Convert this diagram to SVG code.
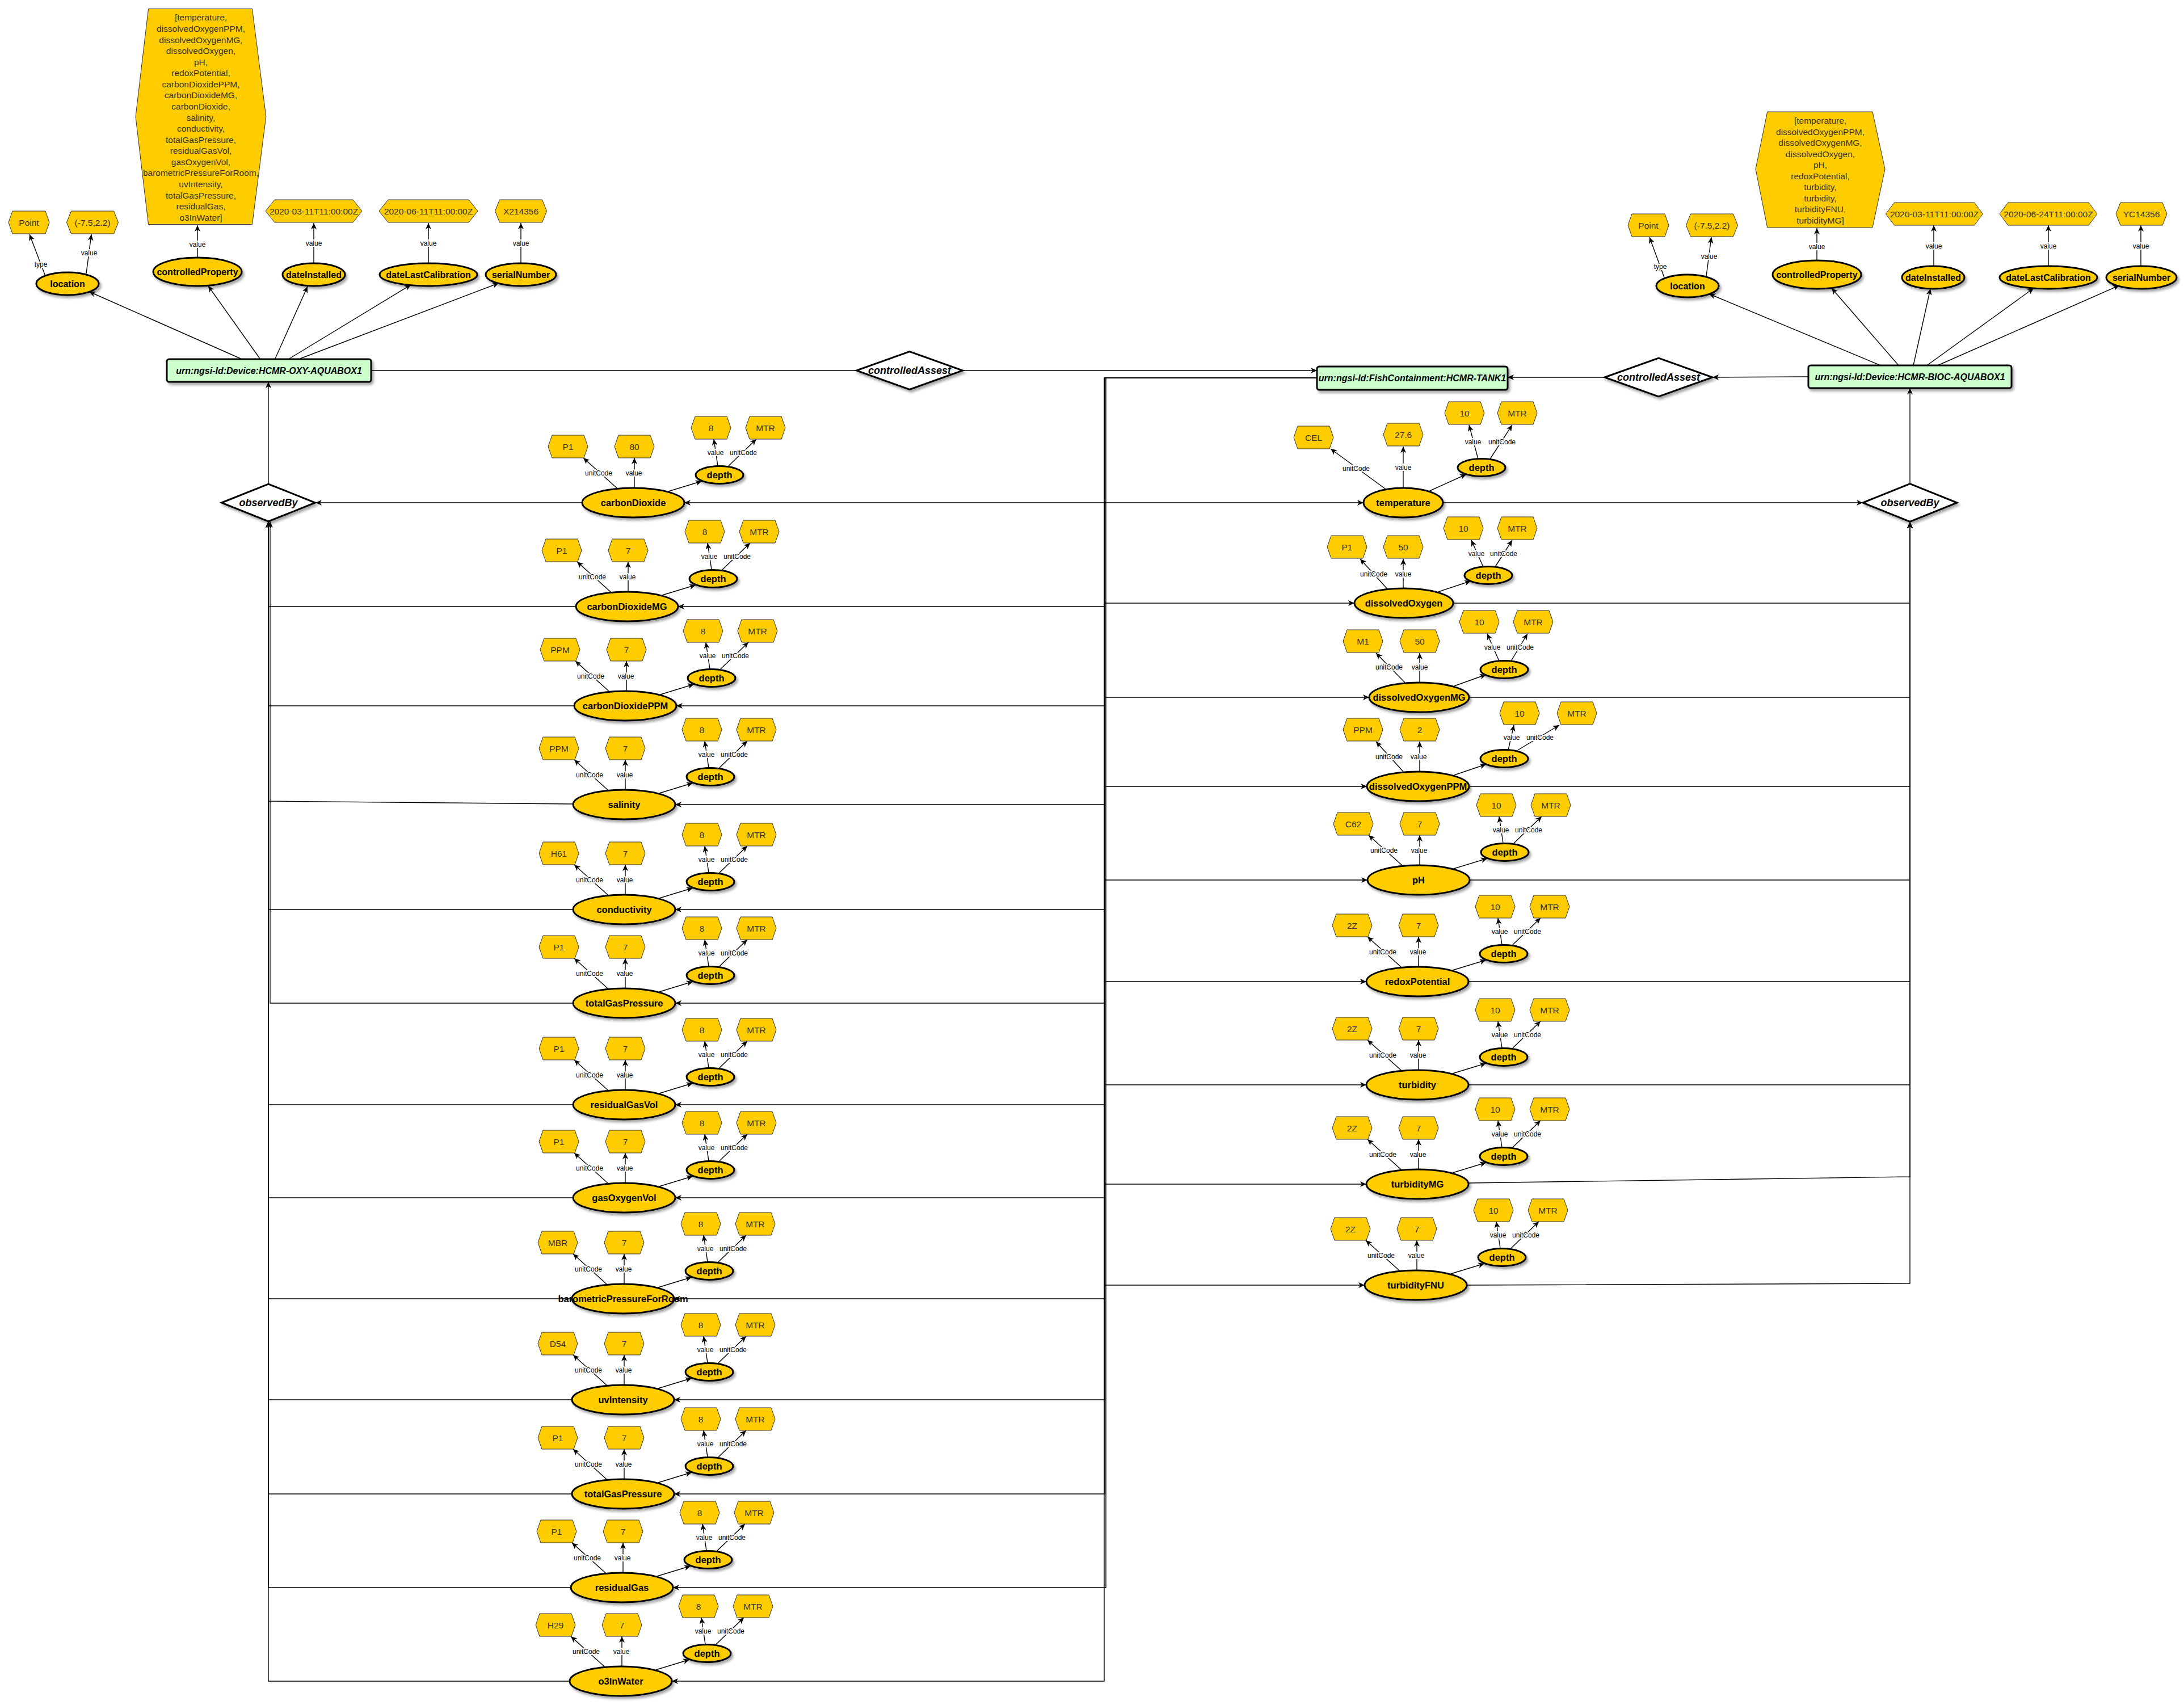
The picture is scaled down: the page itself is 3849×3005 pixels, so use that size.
<svg xmlns="http://www.w3.org/2000/svg" width="3849" height="3005" viewBox="0 0 3849 3005">
<style>
.ell{fill:#FFCC00;stroke:#000;stroke-width:3;filter:url(#sh)}
.hex{fill:#FFCC00;stroke:#333;stroke-width:1}
.box{fill:#CCFFCC;stroke:#000;stroke-width:3;filter:url(#sh)}
.dia{fill:#fff;stroke:#000;stroke-width:3;filter:url(#sh)}
.t{font-family:"Liberation Sans",Arial,sans-serif;text-anchor:middle;dominant-baseline:central}
.tb{font-weight:bold;font-size:16.5px;fill:#000}
.tt{font-weight:bold;font-size:16px;fill:#000}
.th{font-size:15.5px;fill:#333}
.tl{font-size:12px;fill:#000;stroke:#fff;stroke-width:4px;paint-order:stroke;stroke-linejoin:round}
.ti{font-weight:bold;font-style:italic;font-size:16px;fill:#000}
.td{font-weight:bold;font-style:italic;font-size:18px;fill:#000}
.c path{fill:none;stroke:#000;stroke-width:1.4;marker-end:url(#ar)}
.c path.n{marker-end:none}
</style>
<defs>
<filter id="sh" x="-20%" y="-40%" width="150%" height="190%"><feDropShadow dx="3" dy="4" stdDeviation="2" flood-color="#000" flood-opacity="0.35"/></filter>
<marker id="ar" markerUnits="userSpaceOnUse" markerWidth="12" markerHeight="10" refX="11" refY="5" orient="auto"><path d="M0,0 L11,5 L0,10 L3,5 z" fill="#000"/></marker>
<polygon id="hx" class="hex" points="-35,0 -28,-20 28,-20 35,0 28,20 -28,20"/>
</defs>
<rect width="3849" height="3005" fill="#fff"/>

<g id="connectors" class="c">
<path class="n" d="M654,653 H1510"/>
<path d="M1697,653 H2321"/>
<path d="M3187,664 L3018,665"/>
<path d="M2828,665 H2657"/>
<path d="M473,853 V673"/>
<path d="M3366,852 V684"/>

<path d="M424,632 L157,514"/>
<path d="M458,632 L367,504"/>
<path d="M485,632 L542,505"/>
<path d="M510,632 L724,502"/>
<path d="M529,632 L879,499"/>
<path d="M79,484 L52,413"/>
<path d="M152,482 L161,413"/>
<path d="M348,454 L348,397"/>
<path d="M553,464 L553,393"/>
<path d="M755,464 L755,393"/>
<path d="M918,464 L918,393"/>
<text class="t tl" x="72" y="466">type</text>
<text class="t tl" x="157" y="446">value</text>
<text class="t tl" x="348" y="431">value</text>
<text class="t tl" x="553" y="429">value</text>
<text class="t tl" x="755" y="429">value</text>
<text class="t tl" x="918" y="429">value</text>

<path d="M3314,644 L3012,518"/>
<path d="M3346,644 L3228,508"/>
<path d="M3372,644 L3402,509"/>
<path d="M3396,644 L3584,508"/>
<path d="M3415,644 L3735,503"/>
<path d="M2933,489 L2907,418"/>
<path d="M3007,487 L3016,418"/>
<path d="M3202,459 L3202,402"/>
<path d="M3408,469 L3408,397"/>
<path d="M3610,469 L3610,397"/>
<path d="M3773,469 L3773,397"/>
<text class="t tl" x="2926" y="470">type</text>
<text class="t tl" x="3012" y="452">value</text>
<text class="t tl" x="3202" y="435">value</text>
<text class="t tl" x="3408" y="434">value</text>
<text class="t tl" x="3610" y="434">value</text>
<text class="t tl" x="3773" y="434">value</text>

<path d="M2321,666 H1947 V886 H1206"/>
<path d="M2321,666 H1947 V1069 H1195"/>
<path d="M2321,666 H1947 V1244 H1192"/>
<path d="M2321,666 H1947 V1418 H1190"/>
<path d="M2321,666 H1947 V1603 H1190"/>
<path d="M2321,666 H1947 V1768 H1190"/>
<path d="M2321,666 H1947 V1947 H1190"/>
<path d="M2321,666 H1947 V2111 H1190"/>
<path d="M2321,666 H1947 V2289 H1188"/>
<path d="M2321,666 H1947 V2467 H1188"/>
<path d="M2321,666 H1947 V2633 H1188"/>
<path d="M2321,666 H1949 V2798 H1186"/>
<path d="M2321,666 H1946 V2963 H1184"/>
<path d="M2321,666 H1947 V886 H2403"/>
<path d="M2321,666 H1947 V1063 H2387"/>
<path d="M2321,666 H1947 V1229 H2413"/>
<path d="M2321,666 H1947 V1386 H2409"/>
<path d="M2321,666 H1947 V1551 H2410"/>
<path d="M2321,666 H1947 V1730 H2408"/>
<path d="M2321,666 H1947 V1912 H2408"/>
<path d="M2321,666 H1947 V2087 H2408"/>
<path d="M2321,666 H1947 V2265 H2405"/>

<path d="M1026,886 H556"/>
<path d="M1015,1069 H473 V919"/>
<path d="M1012,1244 H473 V919"/>
<path d="M1010,1417 L473,1412 V919"/>
<path d="M1010,1603 H473 V919"/>
<path d="M1010,1768 H476 V919"/>
<path d="M1010,1947 H473 V919"/>
<path d="M1010,2111 H473 V919"/>
<path d="M1008,2289 H473 V919"/>
<path d="M1008,2467 H473 V919"/>
<path d="M1008,2633 H473 V919"/>
<path d="M1006,2798 H473 V919"/>
<path d="M1004,2963 H473 V919"/>
<path d="M2543,886 H3283"/>
<path d="M2561,1063 H3366 V920"/>
<path d="M2589,1229 H3366 V920"/>
<path d="M2589,1386 H3366 V920"/>
<path d="M2590,1551 H3366 V920"/>
<path d="M2588,1730 H3366 V920"/>
<path d="M2588,1912 H3366 V920"/>
<path d="M2588,2085 L3366,2074 V920"/>
<path d="M2585,2265 L3366,2262 V920"/>

<g transform="translate(1116,886)"><path d="M-28,-25 L-88,-79"/><path d="M2,-26 L2,-79"/><path d="M62,-20 L121,-38"/><path d="M149,-65 L142,-112"/><path d="M168,-65 L217,-112"/><text class="t tl" x="-61" y="-52">unitCode</text><text class="t tl" x="1" y="-52">value</text><text class="t tl" x="145" y="-88">value</text><text class="t tl" x="194" y="-88">unitCode</text></g>
<g transform="translate(1105,1069)"><path d="M-28,-25 L-88,-79"/><path d="M2,-26 L2,-79"/><path d="M62,-20 L121,-38"/><path d="M149,-65 L142,-112"/><path d="M168,-65 L217,-112"/><text class="t tl" x="-61" y="-52">unitCode</text><text class="t tl" x="1" y="-52">value</text><text class="t tl" x="145" y="-88">value</text><text class="t tl" x="194" y="-88">unitCode</text></g>
<g transform="translate(1102,1244)"><path d="M-28,-25 L-88,-79"/><path d="M2,-26 L2,-79"/><path d="M62,-20 L121,-38"/><path d="M149,-65 L142,-112"/><path d="M168,-65 L217,-112"/><text class="t tl" x="-61" y="-52">unitCode</text><text class="t tl" x="1" y="-52">value</text><text class="t tl" x="145" y="-88">value</text><text class="t tl" x="194" y="-88">unitCode</text></g>
<g transform="translate(1100,1418)"><path d="M-28,-25 L-88,-79"/><path d="M2,-26 L2,-79"/><path d="M62,-20 L121,-38"/><path d="M149,-65 L142,-112"/><path d="M168,-65 L217,-112"/><text class="t tl" x="-61" y="-52">unitCode</text><text class="t tl" x="1" y="-52">value</text><text class="t tl" x="145" y="-88">value</text><text class="t tl" x="194" y="-88">unitCode</text></g>
<g transform="translate(1100,1603)"><path d="M-28,-25 L-88,-79"/><path d="M2,-26 L2,-79"/><path d="M62,-20 L121,-38"/><path d="M149,-65 L142,-112"/><path d="M168,-65 L217,-112"/><text class="t tl" x="-61" y="-52">unitCode</text><text class="t tl" x="1" y="-52">value</text><text class="t tl" x="145" y="-88">value</text><text class="t tl" x="194" y="-88">unitCode</text></g>
<g transform="translate(1100,1768)"><path d="M-28,-25 L-88,-79"/><path d="M2,-26 L2,-79"/><path d="M62,-20 L121,-38"/><path d="M149,-65 L142,-112"/><path d="M168,-65 L217,-112"/><text class="t tl" x="-61" y="-52">unitCode</text><text class="t tl" x="1" y="-52">value</text><text class="t tl" x="145" y="-88">value</text><text class="t tl" x="194" y="-88">unitCode</text></g>
<g transform="translate(1100,1947)"><path d="M-28,-25 L-88,-79"/><path d="M2,-26 L2,-79"/><path d="M62,-20 L121,-38"/><path d="M149,-65 L142,-112"/><path d="M168,-65 L217,-112"/><text class="t tl" x="-61" y="-52">unitCode</text><text class="t tl" x="1" y="-52">value</text><text class="t tl" x="145" y="-88">value</text><text class="t tl" x="194" y="-88">unitCode</text></g>
<g transform="translate(1100,2111)"><path d="M-28,-25 L-88,-79"/><path d="M2,-26 L2,-79"/><path d="M62,-20 L121,-38"/><path d="M149,-65 L142,-112"/><path d="M168,-65 L217,-112"/><text class="t tl" x="-61" y="-52">unitCode</text><text class="t tl" x="1" y="-52">value</text><text class="t tl" x="145" y="-88">value</text><text class="t tl" x="194" y="-88">unitCode</text></g>
<g transform="translate(1098,2289)"><path d="M-28,-25 L-88,-79"/><path d="M2,-26 L2,-79"/><path d="M62,-20 L121,-38"/><path d="M149,-65 L142,-112"/><path d="M168,-65 L217,-112"/><text class="t tl" x="-61" y="-52">unitCode</text><text class="t tl" x="1" y="-52">value</text><text class="t tl" x="145" y="-88">value</text><text class="t tl" x="194" y="-88">unitCode</text></g>
<g transform="translate(1098,2467)"><path d="M-28,-25 L-88,-79"/><path d="M2,-26 L2,-79"/><path d="M62,-20 L121,-38"/><path d="M149,-65 L142,-112"/><path d="M168,-65 L217,-112"/><text class="t tl" x="-61" y="-52">unitCode</text><text class="t tl" x="1" y="-52">value</text><text class="t tl" x="145" y="-88">value</text><text class="t tl" x="194" y="-88">unitCode</text></g>
<g transform="translate(1098,2633)"><path d="M-28,-25 L-88,-79"/><path d="M2,-26 L2,-79"/><path d="M62,-20 L121,-38"/><path d="M149,-65 L142,-112"/><path d="M168,-65 L217,-112"/><text class="t tl" x="-61" y="-52">unitCode</text><text class="t tl" x="1" y="-52">value</text><text class="t tl" x="145" y="-88">value</text><text class="t tl" x="194" y="-88">unitCode</text></g>
<g transform="translate(1096,2798)"><path d="M-28,-25 L-88,-79"/><path d="M2,-26 L2,-79"/><path d="M62,-20 L121,-38"/><path d="M149,-65 L142,-112"/><path d="M168,-65 L217,-112"/><text class="t tl" x="-61" y="-52">unitCode</text><text class="t tl" x="1" y="-52">value</text><text class="t tl" x="145" y="-88">value</text><text class="t tl" x="194" y="-88">unitCode</text></g>
<g transform="translate(1094,2963)"><path d="M-28,-25 L-88,-79"/><path d="M2,-26 L2,-79"/><path d="M62,-20 L121,-38"/><path d="M149,-65 L142,-112"/><path d="M168,-65 L217,-112"/><text class="t tl" x="-61" y="-52">unitCode</text><text class="t tl" x="1" y="-52">value</text><text class="t tl" x="145" y="-88">value</text><text class="t tl" x="194" y="-88">unitCode</text></g>

<g><path d="M2442,862 L2345,791"/><path d="M2473,860 L2473,787"/><path d="M2518,866 L2584,836"/><path d="M2605,809 L2589,749"/><path d="M2626,809 L2665,749"/><text class="t tl" x="2390" y="826">unitCode</text><text class="t tl" x="2473" y="824">value</text><text class="t tl" x="2596" y="779">value</text><text class="t tl" x="2647" y="779">unitCode</text></g>
<g><path d="M2445,1038 L2397,985"/><path d="M2473,1037 L2473,985"/><path d="M2535,1043 L2592,1024"/><path d="M2614,999 L2593,952"/><path d="M2635,999 L2665,952"/><text class="t tl" x="2421" y="1012">unitCode</text><text class="t tl" x="2473" y="1012">value</text><text class="t tl" x="2602" y="976">value</text><text class="t tl" x="2650" y="976">unitCode</text></g>
<g><path d="M2476,1203 L2425,1151"/><path d="M2502,1203 L2502,1151"/><path d="M2563,1209 L2619,1189"/><path d="M2642,1165 L2621,1117"/><path d="M2663,1165 L2692,1117"/><text class="t tl" x="2448" y="1176">unitCode</text><text class="t tl" x="2502" y="1176">value</text><text class="t tl" x="2630" y="1141">value</text><text class="t tl" x="2679" y="1141">unitCode</text></g>
<g><path d="M2473,1360 L2425,1307"/><path d="M2502,1360 L2502,1307"/><path d="M2563,1366 L2619,1347"/><path d="M2658,1322 L2668,1278"/><path d="M2675,1322 L2748,1278"/><text class="t tl" x="2448" y="1334">unitCode</text><text class="t tl" x="2500" y="1334">value</text><text class="t tl" x="2664" y="1300">value</text><text class="t tl" x="2714" y="1300">unitCode</text></g>
<g transform="translate(2500,1551)"><path d="M-28,-25 L-88,-79"/><path d="M2,-26 L2,-79"/><path d="M62,-20 L121,-38"/><path d="M149,-65 L142,-112"/><path d="M168,-65 L217,-112"/><text class="t tl" x="-61" y="-52">unitCode</text><text class="t tl" x="1" y="-52">value</text><text class="t tl" x="145" y="-88">value</text><text class="t tl" x="194" y="-88">unitCode</text></g>
<g transform="translate(2498,1730)"><path d="M-28,-25 L-88,-79"/><path d="M2,-26 L2,-79"/><path d="M62,-20 L121,-38"/><path d="M149,-65 L142,-112"/><path d="M168,-65 L217,-112"/><text class="t tl" x="-61" y="-52">unitCode</text><text class="t tl" x="1" y="-52">value</text><text class="t tl" x="145" y="-88">value</text><text class="t tl" x="194" y="-88">unitCode</text></g>
<g transform="translate(2498,1912)"><path d="M-28,-25 L-88,-79"/><path d="M2,-26 L2,-79"/><path d="M62,-20 L121,-38"/><path d="M149,-65 L142,-112"/><path d="M168,-65 L217,-112"/><text class="t tl" x="-61" y="-52">unitCode</text><text class="t tl" x="1" y="-52">value</text><text class="t tl" x="145" y="-88">value</text><text class="t tl" x="194" y="-88">unitCode</text></g>
<g transform="translate(2498,2087)"><path d="M-28,-25 L-88,-79"/><path d="M2,-26 L2,-79"/><path d="M62,-20 L121,-38"/><path d="M149,-65 L142,-112"/><path d="M168,-65 L217,-112"/><text class="t tl" x="-61" y="-52">unitCode</text><text class="t tl" x="1" y="-52">value</text><text class="t tl" x="145" y="-88">value</text><text class="t tl" x="194" y="-88">unitCode</text></g>
<g transform="translate(2495,2265)"><path d="M-28,-25 L-88,-79"/><path d="M2,-26 L2,-79"/><path d="M62,-20 L121,-38"/><path d="M149,-65 L142,-112"/><path d="M168,-65 L217,-112"/><text class="t tl" x="-61" y="-52">unitCode</text><text class="t tl" x="1" y="-52">value</text><text class="t tl" x="145" y="-88">value</text><text class="t tl" x="194" y="-88">unitCode</text></g>
</g>

<g id="nodes">
<g id="dev-oxy"><rect class="box" x="294" y="633" width="360" height="40" rx="4"/><text class="t ti" x="474" y="653">urn:ngsi-ld:Device:HCMR-OXY-AQUABOX1</text></g>
<g id="dev-bioc"><rect class="box" x="3187" y="644" width="358" height="40" rx="4"/><text class="t ti" x="3366" y="664">urn:ngsi-ld:Device:HCMR-BIOC-AQUABOX1</text></g>
<g id="tank"><rect class="box" x="2321" y="646" width="336" height="41" rx="4"/><text class="t ti" x="2489" y="666.5">urn:ngsi-ld:FishContainment:HCMR-TANK1</text></g>
<g id="ca-left" transform="translate(1603,653)"><polygon class="dia" points="-93.5,0 0,-33.5 93.5,0 0,33.5"/><text class="t td">controlledAssest</text></g>
<g id="ca-right" transform="translate(2923,665)"><polygon class="dia" points="-95,0 0,-34 95,0 0,34"/><text class="t td">controlledAssest</text></g>
<g id="ob-left" transform="translate(473,886)"><polygon class="dia" points="-82.5,0 0,-33 82.5,0 0,33"/><text class="t td">observedBy</text></g>
<g id="ob-right" transform="translate(3366,886)"><polygon class="dia" points="-83,0 0,-33.5 83,0 0,33.5"/><text class="t td">observedBy</text></g>

<g id="oxy-location" transform="translate(119,500)"><ellipse class="ell" rx="55" ry="20"/><text class="t tt">location</text></g>
<g id="oxy-controlledProperty" transform="translate(348,479)"><ellipse class="ell" rx="78" ry="25"/><text class="t tt">controlledProperty</text></g>
<g id="oxy-dateInstalled" transform="translate(553,484)"><ellipse class="ell" rx="55" ry="20"/><text class="t tt">dateInstalled</text></g>
<g id="oxy-dateLastCalibration" transform="translate(755,484)"><ellipse class="ell" rx="86" ry="20"/><text class="t tt">dateLastCalibration</text></g>
<g id="oxy-serialNumber" transform="translate(918,484)"><ellipse class="ell" rx="62" ry="20"/><text class="t tt">serialNumber</text></g>
<g id="oxy-loc-type" transform="translate(51,392)"><polygon class="hex" points="-36,0 -29,-20 29,-20 36,0 29,20 -29,20"/><text class="t th">Point</text></g>
<g id="oxy-loc-value" transform="translate(163,392)"><polygon class="hex" points="-45.5,0 -37.5,-20 37.5,-20 45.5,0 37.5,20 -37.5,20"/><text class="t th">(-7.5,2.2)</text></g>
<g id="oxy-cp-value"><polygon class="hex" points="261.5,15.6 444.5,15.6 468.8,205.6 444.5,395.5 261.5,395.5 239,205.6"/><text class="t th"><tspan x="354" y="30.4">[temperature,</tspan><tspan x="354" y="50">dissolvedOxygenPPM,</tspan><tspan x="354" y="69.5">dissolvedOxygenMG,</tspan><tspan x="354" y="89.1">dissolvedOxygen,</tspan><tspan x="354" y="108.7">pH,</tspan><tspan x="354" y="128.3">redoxPotential,</tspan><tspan x="354" y="147.8">carbonDioxidePPM,</tspan><tspan x="354" y="167.4">carbonDioxideMG,</tspan><tspan x="354" y="187">carbonDioxide,</tspan><tspan x="354" y="206.5">salinity,</tspan><tspan x="354" y="226.1">conductivity,</tspan><tspan x="354" y="245.7">totalGasPressure,</tspan><tspan x="354" y="265.2">residualGasVol,</tspan><tspan x="354" y="284.8">gasOxygenVol,</tspan><tspan x="354" y="304.4">barometricPressureForRoom,</tspan><tspan x="354" y="323.9">uvIntensity,</tspan><tspan x="354" y="343.5">totalGasPressure,</tspan><tspan x="354" y="363.1">residualGas,</tspan><tspan x="354" y="382.7">o3InWater]</tspan></text></g>
<g id="oxy-di-value" transform="translate(553,372)"><polygon class="hex" points="-85,0 -69,-20 69,-20 85,0 69,20 -69,20"/><text class="t th">2020-03-11T11:00:00Z</text></g>
<g id="oxy-dlc-value" transform="translate(755,372)"><polygon class="hex" points="-87,0 -71,-20 71,-20 87,0 71,20 -71,20"/><text class="t th">2020-06-11T11:00:00Z</text></g>
<g id="oxy-sn-value" transform="translate(918,372)"><polygon class="hex" points="-45.5,0 -37.5,-20 37.5,-20 45.5,0 37.5,20 -37.5,20"/><text class="t th">X214356</text></g>

<g id="bioc-location" transform="translate(2974,504)"><ellipse class="ell" rx="55" ry="20"/><text class="t tt">location</text></g>
<g id="bioc-controlledProperty" transform="translate(3202,484)"><ellipse class="ell" rx="78" ry="25"/><text class="t tt">controlledProperty</text></g>
<g id="bioc-dateInstalled" transform="translate(3407,489)"><ellipse class="ell" rx="55" ry="20"/><text class="t tt">dateInstalled</text></g>
<g id="bioc-dateLastCalibration" transform="translate(3610,489)"><ellipse class="ell" rx="86" ry="20"/><text class="t tt">dateLastCalibration</text></g>
<g id="bioc-serialNumber" transform="translate(3774,489)"><ellipse class="ell" rx="62" ry="20"/><text class="t tt">serialNumber</text></g>
<g id="bioc-loc-type" transform="translate(2905,397)"><polygon class="hex" points="-36,0 -29,-20 29,-20 36,0 29,20 -29,20"/><text class="t th">Point</text></g>
<g id="bioc-loc-value" transform="translate(3017,397)"><polygon class="hex" points="-45.5,0 -37.5,-20 37.5,-20 45.5,0 37.5,20 -37.5,20"/><text class="t th">(-7.5,2.2)</text></g>
<g id="bioc-cp-value"><polygon class="hex" points="3114.7,197 3300,197 3322,298 3300,401 3114.7,401 3094,298"/><text class="t th"><tspan x="3208" y="212">[temperature,</tspan><tspan x="3208" y="231.5">dissolvedOxygenPPM,</tspan><tspan x="3208" y="251">dissolvedOxygenMG,</tspan><tspan x="3208" y="270.5">dissolvedOxygen,</tspan><tspan x="3208" y="290">pH,</tspan><tspan x="3208" y="309.5">redoxPotential,</tspan><tspan x="3208" y="329">turbidity,</tspan><tspan x="3208" y="348.5">turbidity,</tspan><tspan x="3208" y="368">turbidityFNU,</tspan><tspan x="3208" y="387.5">turbidityMG]</tspan></text></g>
<g id="bioc-di-value" transform="translate(3409,377)"><polygon class="hex" points="-85.5,0 -70.5,-20 70.5,-20 85.5,0 70.5,20 -70.5,20"/><text class="t th">2020-03-11T11:00:00Z</text></g>
<g id="bioc-dlc-value" transform="translate(3610,377)"><polygon class="hex" points="-86,0 -71,-20 71,-20 86,0 71,20 -71,20"/><text class="t th">2020-06-24T11:00:00Z</text></g>
<g id="bioc-sn-value" transform="translate(3774,377)"><polygon class="hex" points="-45,0 -37,-20 37,-20 45,0 37,20 -37,20"/><text class="t th">YC14356</text></g>

<g id="L1" transform="translate(1116,886)"><ellipse class="ell" rx="90" ry="26"/><text class="t tb">carbonDioxide</text></g>
<g id="L1u" transform="translate(1001,787)"><use href="#hx"/><text class="t th">P1</text></g>
<g id="L1v" transform="translate(1118,787)"><use href="#hx"/><text class="t th">80</text></g>
<g id="L1d" transform="translate(1268,837)"><ellipse class="ell" rx="42" ry="15.5"/><text class="t tb">depth</text></g>
<g id="L1dv" transform="translate(1253,754)"><use href="#hx"/><text class="t th">8</text></g>
<g id="L1du" transform="translate(1349,754)"><use href="#hx"/><text class="t th">MTR</text></g>

<g id="L2" transform="translate(1105,1069)"><ellipse class="ell" rx="90" ry="26"/><text class="t tb">carbonDioxideMG</text></g>
<g id="L2u" transform="translate(990,970)"><use href="#hx"/><text class="t th">P1</text></g>
<g id="L2v" transform="translate(1107,970)"><use href="#hx"/><text class="t th">7</text></g>
<g id="L2d" transform="translate(1257,1020)"><ellipse class="ell" rx="42" ry="15.5"/><text class="t tb">depth</text></g>
<g id="L2dv" transform="translate(1242,937)"><use href="#hx"/><text class="t th">8</text></g>
<g id="L2du" transform="translate(1338,937)"><use href="#hx"/><text class="t th">MTR</text></g>

<g id="L3" transform="translate(1102,1244)"><ellipse class="ell" rx="90" ry="26"/><text class="t tb">carbonDioxidePPM</text></g>
<g id="L3u" transform="translate(987,1145)"><use href="#hx"/><text class="t th">PPM</text></g>
<g id="L3v" transform="translate(1104,1145)"><use href="#hx"/><text class="t th">7</text></g>
<g id="L3d" transform="translate(1254,1195)"><ellipse class="ell" rx="42" ry="15.5"/><text class="t tb">depth</text></g>
<g id="L3dv" transform="translate(1239,1112)"><use href="#hx"/><text class="t th">8</text></g>
<g id="L3du" transform="translate(1335,1112)"><use href="#hx"/><text class="t th">MTR</text></g>

<g id="L4" transform="translate(1100,1418)"><ellipse class="ell" rx="90" ry="26"/><text class="t tb">salinity</text></g>
<g id="L4u" transform="translate(985,1319)"><use href="#hx"/><text class="t th">PPM</text></g>
<g id="L4v" transform="translate(1102,1319)"><use href="#hx"/><text class="t th">7</text></g>
<g id="L4d" transform="translate(1252,1369)"><ellipse class="ell" rx="42" ry="15.5"/><text class="t tb">depth</text></g>
<g id="L4dv" transform="translate(1237,1286)"><use href="#hx"/><text class="t th">8</text></g>
<g id="L4du" transform="translate(1333,1286)"><use href="#hx"/><text class="t th">MTR</text></g>

<g id="L5" transform="translate(1100,1603)"><ellipse class="ell" rx="90" ry="26"/><text class="t tb">conductivity</text></g>
<g id="L5u" transform="translate(985,1504)"><use href="#hx"/><text class="t th">H61</text></g>
<g id="L5v" transform="translate(1102,1504)"><use href="#hx"/><text class="t th">7</text></g>
<g id="L5d" transform="translate(1252,1554)"><ellipse class="ell" rx="42" ry="15.5"/><text class="t tb">depth</text></g>
<g id="L5dv" transform="translate(1237,1471)"><use href="#hx"/><text class="t th">8</text></g>
<g id="L5du" transform="translate(1333,1471)"><use href="#hx"/><text class="t th">MTR</text></g>

<g id="L6" transform="translate(1100,1768)"><ellipse class="ell" rx="90" ry="26"/><text class="t tb">totalGasPressure</text></g>
<g id="L6u" transform="translate(985,1669)"><use href="#hx"/><text class="t th">P1</text></g>
<g id="L6v" transform="translate(1102,1669)"><use href="#hx"/><text class="t th">7</text></g>
<g id="L6d" transform="translate(1252,1719)"><ellipse class="ell" rx="42" ry="15.5"/><text class="t tb">depth</text></g>
<g id="L6dv" transform="translate(1237,1636)"><use href="#hx"/><text class="t th">8</text></g>
<g id="L6du" transform="translate(1333,1636)"><use href="#hx"/><text class="t th">MTR</text></g>

<g id="L7" transform="translate(1100,1947)"><ellipse class="ell" rx="90" ry="26"/><text class="t tb">residualGasVol</text></g>
<g id="L7u" transform="translate(985,1848)"><use href="#hx"/><text class="t th">P1</text></g>
<g id="L7v" transform="translate(1102,1848)"><use href="#hx"/><text class="t th">7</text></g>
<g id="L7d" transform="translate(1252,1898)"><ellipse class="ell" rx="42" ry="15.5"/><text class="t tb">depth</text></g>
<g id="L7dv" transform="translate(1237,1815)"><use href="#hx"/><text class="t th">8</text></g>
<g id="L7du" transform="translate(1333,1815)"><use href="#hx"/><text class="t th">MTR</text></g>

<g id="L8" transform="translate(1100,2111)"><ellipse class="ell" rx="90" ry="26"/><text class="t tb">gasOxygenVol</text></g>
<g id="L8u" transform="translate(985,2012)"><use href="#hx"/><text class="t th">P1</text></g>
<g id="L8v" transform="translate(1102,2012)"><use href="#hx"/><text class="t th">7</text></g>
<g id="L8d" transform="translate(1252,2062)"><ellipse class="ell" rx="42" ry="15.5"/><text class="t tb">depth</text></g>
<g id="L8dv" transform="translate(1237,1979)"><use href="#hx"/><text class="t th">8</text></g>
<g id="L8du" transform="translate(1333,1979)"><use href="#hx"/><text class="t th">MTR</text></g>

<g id="L9" transform="translate(1098,2289)"><ellipse class="ell" rx="90" ry="26"/><text class="t tb">barometricPressureForRoom</text></g>
<g id="L9u" transform="translate(983,2190)"><use href="#hx"/><text class="t th">MBR</text></g>
<g id="L9v" transform="translate(1100,2190)"><use href="#hx"/><text class="t th">7</text></g>
<g id="L9d" transform="translate(1250,2240)"><ellipse class="ell" rx="42" ry="15.5"/><text class="t tb">depth</text></g>
<g id="L9dv" transform="translate(1235,2157)"><use href="#hx"/><text class="t th">8</text></g>
<g id="L9du" transform="translate(1331,2157)"><use href="#hx"/><text class="t th">MTR</text></g>

<g id="L10" transform="translate(1098,2467)"><ellipse class="ell" rx="90" ry="26"/><text class="t tb">uvIntensity</text></g>
<g id="L10u" transform="translate(983,2368)"><use href="#hx"/><text class="t th">D54</text></g>
<g id="L10v" transform="translate(1100,2368)"><use href="#hx"/><text class="t th">7</text></g>
<g id="L10d" transform="translate(1250,2418)"><ellipse class="ell" rx="42" ry="15.5"/><text class="t tb">depth</text></g>
<g id="L10dv" transform="translate(1235,2335)"><use href="#hx"/><text class="t th">8</text></g>
<g id="L10du" transform="translate(1331,2335)"><use href="#hx"/><text class="t th">MTR</text></g>

<g id="L11" transform="translate(1098,2633)"><ellipse class="ell" rx="90" ry="26"/><text class="t tb">totalGasPressure</text></g>
<g id="L11u" transform="translate(983,2534)"><use href="#hx"/><text class="t th">P1</text></g>
<g id="L11v" transform="translate(1100,2534)"><use href="#hx"/><text class="t th">7</text></g>
<g id="L11d" transform="translate(1250,2584)"><ellipse class="ell" rx="42" ry="15.5"/><text class="t tb">depth</text></g>
<g id="L11dv" transform="translate(1235,2501)"><use href="#hx"/><text class="t th">8</text></g>
<g id="L11du" transform="translate(1331,2501)"><use href="#hx"/><text class="t th">MTR</text></g>

<g id="L12" transform="translate(1096,2798)"><ellipse class="ell" rx="90" ry="26"/><text class="t tb">residualGas</text></g>
<g id="L12u" transform="translate(981,2699)"><use href="#hx"/><text class="t th">P1</text></g>
<g id="L12v" transform="translate(1098,2699)"><use href="#hx"/><text class="t th">7</text></g>
<g id="L12d" transform="translate(1248,2749)"><ellipse class="ell" rx="42" ry="15.5"/><text class="t tb">depth</text></g>
<g id="L12dv" transform="translate(1233,2666)"><use href="#hx"/><text class="t th">8</text></g>
<g id="L12du" transform="translate(1329,2666)"><use href="#hx"/><text class="t th">MTR</text></g>

<g id="L13" transform="translate(1094,2963)"><ellipse class="ell" rx="90" ry="26"/><text class="t tb">o3InWater</text></g>
<g id="L13u" transform="translate(979,2864)"><use href="#hx"/><text class="t th">H29</text></g>
<g id="L13v" transform="translate(1096,2864)"><use href="#hx"/><text class="t th">7</text></g>
<g id="L13d" transform="translate(1246,2914)"><ellipse class="ell" rx="42" ry="15.5"/><text class="t tb">depth</text></g>
<g id="L13dv" transform="translate(1231,2831)"><use href="#hx"/><text class="t th">8</text></g>
<g id="L13du" transform="translate(1327,2831)"><use href="#hx"/><text class="t th">MTR</text></g>

<g id="R1" transform="translate(2473,886)"><ellipse class="ell" rx="70" ry="26"/><text class="t tb">temperature</text></g>
<g id="R1u" transform="translate(2315,771)"><use href="#hx"/><text class="t th">CEL</text></g>
<g id="R1v" transform="translate(2473,766)"><use href="#hx"/><text class="t th">27.6</text></g>
<g id="R1d" transform="translate(2611,824)"><ellipse class="ell" rx="42" ry="15.5"/><text class="t tb">depth</text></g>
<g id="R1dv" transform="translate(2581,728)"><use href="#hx"/><text class="t th">10</text></g>
<g id="R1du" transform="translate(2674,728)"><use href="#hx"/><text class="t th">MTR</text></g>

<g id="R2" transform="translate(2474,1063)"><ellipse class="ell" rx="87" ry="26"/><text class="t tb">dissolvedOxygen</text></g>
<g id="R2u" transform="translate(2374,964)"><use href="#hx"/><text class="t th">P1</text></g>
<g id="R2v" transform="translate(2473,964)"><use href="#hx"/><text class="t th">50</text></g>
<g id="R2d" transform="translate(2623,1014)"><ellipse class="ell" rx="42" ry="15.5"/><text class="t tb">depth</text></g>
<g id="R2dv" transform="translate(2579,931)"><use href="#hx"/><text class="t th">10</text></g>
<g id="R2du" transform="translate(2674,931)"><use href="#hx"/><text class="t th">MTR</text></g>

<g id="R3" transform="translate(2501,1229)"><ellipse class="ell" rx="88" ry="26"/><text class="t tb">dissolvedOxygenMG</text></g>
<g id="R3u" transform="translate(2402,1130)"><use href="#hx"/><text class="t th">M1</text></g>
<g id="R3v" transform="translate(2502,1130)"><use href="#hx"/><text class="t th">50</text></g>
<g id="R3d" transform="translate(2651,1180)"><ellipse class="ell" rx="42" ry="15.5"/><text class="t tb">depth</text></g>
<g id="R3dv" transform="translate(2607,1096)"><use href="#hx"/><text class="t th">10</text></g>
<g id="R3du" transform="translate(2702,1096)"><use href="#hx"/><text class="t th">MTR</text></g>

<g id="R4" transform="translate(2499,1386)"><ellipse class="ell" rx="90" ry="26"/><text class="t tb">dissolvedOxygenPPM</text></g>
<g id="R4u" transform="translate(2402,1286)"><use href="#hx"/><text class="t th">PPM</text></g>
<g id="R4v" transform="translate(2502,1286)"><use href="#hx"/><text class="t th">2</text></g>
<g id="R4d" transform="translate(2651,1337)"><ellipse class="ell" rx="42" ry="15.5"/><text class="t tb">depth</text></g>
<g id="R4dv" transform="translate(2678,1257)"><use href="#hx"/><text class="t th">10</text></g>
<g id="R4du" transform="translate(2779,1257)"><use href="#hx"/><text class="t th">MTR</text></g>

<g id="R5" transform="translate(2500,1551)"><ellipse class="ell" rx="90" ry="26"/><text class="t tb">pH</text></g>
<g id="R5u" transform="translate(2385,1452)"><use href="#hx"/><text class="t th">C62</text></g>
<g id="R5v" transform="translate(2502,1452)"><use href="#hx"/><text class="t th">7</text></g>
<g id="R5d" transform="translate(2652,1502)"><ellipse class="ell" rx="42" ry="15.5"/><text class="t tb">depth</text></g>
<g id="R5dv" transform="translate(2637,1419)"><use href="#hx"/><text class="t th">10</text></g>
<g id="R5du" transform="translate(2733,1419)"><use href="#hx"/><text class="t th">MTR</text></g>

<g id="R6" transform="translate(2498,1730)"><ellipse class="ell" rx="90" ry="26"/><text class="t tb">redoxPotential</text></g>
<g id="R6u" transform="translate(2383,1631)"><use href="#hx"/><text class="t th">2Z</text></g>
<g id="R6v" transform="translate(2500,1631)"><use href="#hx"/><text class="t th">7</text></g>
<g id="R6d" transform="translate(2650,1681)"><ellipse class="ell" rx="42" ry="15.5"/><text class="t tb">depth</text></g>
<g id="R6dv" transform="translate(2635,1598)"><use href="#hx"/><text class="t th">10</text></g>
<g id="R6du" transform="translate(2731,1598)"><use href="#hx"/><text class="t th">MTR</text></g>

<g id="R7" transform="translate(2498,1912)"><ellipse class="ell" rx="90" ry="26"/><text class="t tb">turbidity</text></g>
<g id="R7u" transform="translate(2383,1813)"><use href="#hx"/><text class="t th">2Z</text></g>
<g id="R7v" transform="translate(2500,1813)"><use href="#hx"/><text class="t th">7</text></g>
<g id="R7d" transform="translate(2650,1863)"><ellipse class="ell" rx="42" ry="15.5"/><text class="t tb">depth</text></g>
<g id="R7dv" transform="translate(2635,1780)"><use href="#hx"/><text class="t th">10</text></g>
<g id="R7du" transform="translate(2731,1780)"><use href="#hx"/><text class="t th">MTR</text></g>

<g id="R8" transform="translate(2498,2087)"><ellipse class="ell" rx="90" ry="26"/><text class="t tb">turbidityMG</text></g>
<g id="R8u" transform="translate(2383,1988)"><use href="#hx"/><text class="t th">2Z</text></g>
<g id="R8v" transform="translate(2500,1988)"><use href="#hx"/><text class="t th">7</text></g>
<g id="R8d" transform="translate(2650,2038)"><ellipse class="ell" rx="42" ry="15.5"/><text class="t tb">depth</text></g>
<g id="R8dv" transform="translate(2635,1955)"><use href="#hx"/><text class="t th">10</text></g>
<g id="R8du" transform="translate(2731,1955)"><use href="#hx"/><text class="t th">MTR</text></g>

<g id="R9" transform="translate(2495,2265)"><ellipse class="ell" rx="90" ry="26"/><text class="t tb">turbidityFNU</text></g>
<g id="R9u" transform="translate(2380,2166)"><use href="#hx"/><text class="t th">2Z</text></g>
<g id="R9v" transform="translate(2497,2166)"><use href="#hx"/><text class="t th">7</text></g>
<g id="R9d" transform="translate(2647,2216)"><ellipse class="ell" rx="42" ry="15.5"/><text class="t tb">depth</text></g>
<g id="R9dv" transform="translate(2632,2133)"><use href="#hx"/><text class="t th">10</text></g>
<g id="R9du" transform="translate(2728,2133)"><use href="#hx"/><text class="t th">MTR</text></g>
</g>
</svg>
